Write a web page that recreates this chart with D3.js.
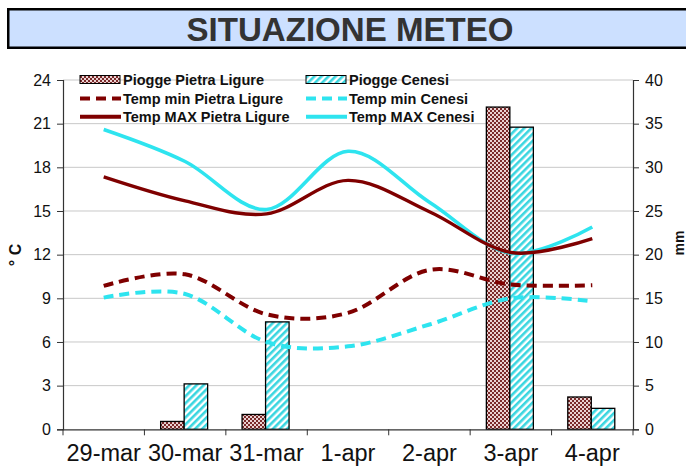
<!DOCTYPE html>
<html>
<head>
<meta charset="utf-8">
<script src="https://cdn.jsdelivr.net/npm/d3@7"></script>
<style>
  html, body { margin: 0; padding: 0; background: #fff; }
  svg { display: block; font-family: "Liberation Sans", Arial, sans-serif; }
</style>
</head>
<body>
<svg id="chart" width="686" height="467"></svg>
<script>
// ---- data ----
const categories = ["29-mar", "30-mar", "31-mar", "1-apr", "2-apr", "3-apr", "4-apr"];
const rainPietra = [0, 0.9, 1.7, 0, 0, 36.9, 3.7];
const rainCenesi = [0, 5.2, 12.3, 0, 0, 34.6, 2.4];
const tminPietra = [9.85, 10.65, 7.9, 8.0, 10.95, 9.95, 9.9];
const tminCenesi = [9.05, 9.3, 6.0, 5.7, 7.2, 9.0, 8.8];
const tmaxPietra = [17.35, 15.7, 14.8, 17.1, 14.95, 12.15, 13.1];
const tmaxCenesi = [20.6, 18.4, 15.1, 19.1, 15.6, 12.1, 13.9];
const tempTicks = [0, 3, 6, 9, 12, 15, 18, 21, 24];
const rainTicks = [0, 5, 10, 15, 20, 25, 30, 35, 40];
const titleText = "SITUAZIONE METEO";
const legendLabels = ["Piogge Pietra Ligure", "Piogge Cenesi", "Temp min Pietra Ligure", "Temp min Cenesi", "Temp MAX Pietra Ligure", "Temp MAX Cenesi"];

const DARK = "#7f0000";
const CYAN = "#2ee4ef";

const svg = d3.select("#chart");
const defs = svg.append("defs");

// checkerboard pattern for Pietra Ligure
const p1 = defs.append("pattern").attr("id", "checker").attr("patternUnits", "userSpaceOnUse")
  .attr("width", 4).attr("height", 4);
p1.append("rect").attr("width", 4).attr("height", 4).attr("fill", "#ead2d2");
p1.append("rect").attr("x", 0).attr("y", 0).attr("width", 2).attr("height", 2).attr("fill", "#7a2a2a");
p1.append("rect").attr("x", 2).attr("y", 2).attr("width", 2).attr("height", 2).attr("fill", "#7a2a2a");

// diagonal stripes for Cenesi
const p2 = defs.append("pattern").attr("id", "stripes").attr("patternUnits", "userSpaceOnUse")
  .attr("width", 5).attr("height", 5).attr("patternTransform", "rotate(45)");
p2.append("rect").attr("width", 5).attr("height", 5).attr("fill", "#ffffff");
p2.append("rect").attr("x", 0).attr("y", 0).attr("width", 2.6).attr("height", 5).attr("fill", "#3ad6e0");

// ---- title ----
svg.append("rect").attr("x", 8.25).attr("y", 9.25).attr("width", 700).attr("height", 38.5)
  .attr("fill", "#cce0ff").attr("stroke", "#000").attr("stroke-width", 2.5);
svg.append("text").attr("x", 350).attr("y", 40.5).attr("text-anchor", "middle")
  .attr("font-size", 34).attr("font-weight", "bold").attr("fill", "#333")
  .attr("textLength", 327).attr("lengthAdjust", "spacingAndGlyphs")
  .text(titleText);

// ---- scales ----
const pL = 63, pR = 633, pT = 80, pB = 429.3;
const x = d3.scaleBand().domain(categories).range([pL, pR]).padding(0);
const yT = d3.scaleLinear().domain([0, 24]).range([pB, pT]);
const yR = d3.scaleLinear().domain([0, 40]).range([pB, pT]);

// gridlines
svg.append("g").selectAll("line").data(tempTicks.slice(1)).join("line")
  .attr("x1", pL).attr("x2", pR)
  .attr("y1", d => yT(d)).attr("y2", d => yT(d))
  .attr("stroke", "#c8c8c8").attr("stroke-width", 1);

// bars
const barW = 23.5;
const cx = d => x(d) + x.bandwidth() / 2 - 1;
svg.append("g").selectAll("rect").data(categories.map((c, i) => ({ c, v: rainPietra[i] })).filter(d => d.v > 0))
  .join("rect")
  .attr("x", d => cx(d.c) - barW).attr("width", barW)
  .attr("y", d => yR(d.v)).attr("height", d => pB - yR(d.v))
  .attr("fill", "url(#checker)").attr("stroke", "#000").attr("stroke-width", 1.3);
svg.append("g").selectAll("rect").data(categories.map((c, i) => ({ c, v: rainCenesi[i] })).filter(d => d.v > 0))
  .join("rect")
  .attr("x", d => cx(d.c)).attr("width", barW)
  .attr("y", d => yR(d.v)).attr("height", d => pB - yR(d.v))
  .attr("fill", "url(#stripes)").attr("stroke", "#000").attr("stroke-width", 1.3);

// lines
const curve = d3.curveCardinal.tension(0);
const line = d3.line().x((d, i) => x(categories[i]) + x.bandwidth() / 2).y(d => yT(d)).curve(curve);
const series = [
  { v: tmaxCenesi, color: CYAN, dash: null, w: 3.6 },
  { v: tmaxPietra, color: DARK, dash: null, w: 3.4 },
  { v: tminCenesi, color: CYAN, dash: "10,6", w: 4 },
  { v: tminPietra, color: DARK, dash: "10,6", w: 4 }
];
svg.append("g").selectAll("path").data(series).join("path")
  .attr("d", d => line(d.v)).attr("fill", "none")
  .attr("stroke", d => d.color).attr("stroke-width", d => d.w)
  .attr("stroke-dasharray", d => d.dash);

// axes
const axL = d3.axisLeft(yT).tickValues(tempTicks).tickSize(6).tickPadding(6);
const gL = svg.append("g").attr("transform", `translate(${pL},0)`).call(axL);
const axR = d3.axisRight(yR).tickValues(rainTicks).tickSize(6).tickPadding(6);
const gR = svg.append("g").attr("transform", `translate(${pR},0)`).call(axR);
const axB = d3.axisBottom(x).tickSize(0).tickPadding(15);
const gB = svg.append("g").attr("transform", `translate(0,${pB})`).call(axB);
// bottom category-boundary ticks
svg.append("g").selectAll("line").data(categories.concat(["end"])).join("line")
  .attr("x1", (d, i) => pL + i * x.bandwidth()).attr("x2", (d, i) => pL + i * x.bandwidth())
  .attr("y1", pB).attr("y2", pB + 6).attr("stroke", "#333").attr("stroke-width", 1);

[gL, gR, gB].forEach(g => {
  g.select(".domain").attr("stroke", "#333").attr("stroke-width", 1.2);
  g.selectAll(".tick line").attr("stroke", "#333");
  g.selectAll("text").attr("fill", "#111").attr("font-family", "Liberation Sans, Arial, sans-serif");
});
gL.selectAll("text").attr("font-size", 16);
gR.selectAll("text").attr("font-size", 16);
gB.selectAll("text").attr("font-size", 23.5).attr("dy", "0.71em");

// axis titles
svg.append("text").attr("transform", "translate(21,255) rotate(-90)").attr("text-anchor", "middle")
  .attr("font-size", 16).attr("font-weight", "bold").attr("fill", "#111").text("° C");
svg.append("text").attr("transform", "translate(684,243) rotate(-90)").attr("text-anchor", "middle")
  .attr("font-size", 14).attr("font-weight", "bold").attr("fill", "#111").text("mm");

// legend
const legX = [80, 306], legY = [80, 98.5, 116.7];
const leg = svg.append("g");
legendLabels.forEach((lab, i) => {
  const col = i % 2, row = Math.floor(i / 2);
  const lx = legX[col], ly = legY[row];
  const color = col === 0 ? DARK : CYAN;
  if (row === 0) {
    leg.append("rect").attr("x", lx).attr("y", ly - 4.5).attr("width", 40).attr("height", 8)
      .attr("fill", col === 0 ? "url(#checker)" : "url(#stripes)").attr("stroke", "#000").attr("stroke-width", 1);
  } else {
    leg.append("line").attr("x1", lx).attr("x2", lx + 41).attr("y1", ly).attr("y2", ly)
      .attr("stroke", color).attr("stroke-width", 4)
      .attr("stroke-dasharray", row === 1 ? "10,6" : null);
  }
  leg.append("text").attr("x", lx + 43).attr("y", ly).attr("dy", "0.36em")
    .attr("font-size", 14.5).attr("font-weight", "bold").attr("fill", "#111").text(lab);
});
</script>
</body>
</html>
